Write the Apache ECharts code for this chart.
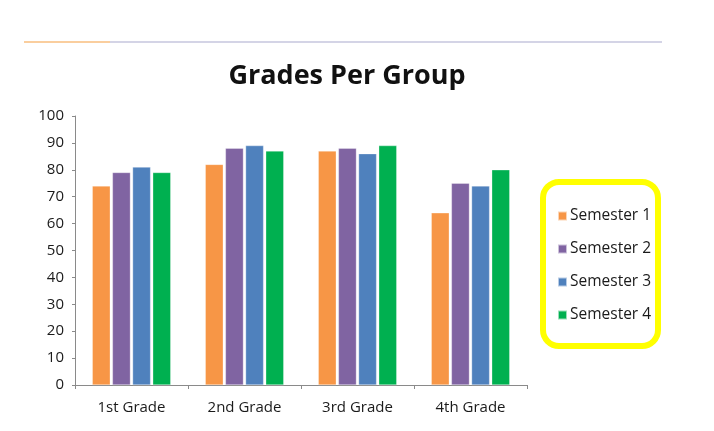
<!DOCTYPE html>
<html>
<head>
<meta charset="utf-8">
<script src="https://cdn.jsdelivr.net/npm/echarts@6/dist/echarts.min.js"></script>
<style>
html, body { margin: 0; padding: 0; background: #fff; }
#chart { width: 714px; height: 431px; }
</style>
</head>
<body>
<div id="chart"></div>
<script>
// 数据
const categories = ['1st Grade', '2nd Grade', '3rd Grade', '4th Grade'];
const seriesNames = ['Semester 1', 'Semester 2', 'Semester 3', 'Semester 4'];
const semester1 = [74, 82, 87, 64];
const semester2 = [79, 88, 88, 75];
const semester3 = [81, 89, 86, 74];
const semester4 = [79, 87, 89, 80];
const yTicks = [0, 10, 20, 30, 40, 50, 60, 70, 80, 90, 100];

const colors = ['#F79646', '#8064A2', '#4F81BD', '#00B050'];
const font = 'Open Sans';

const chart = echarts.init(document.getElementById('chart'));

const seriesData = [semester1, semester2, semester3, semester4];

const option = {
	animation: false,
	color: colors,
	title: {
		text: 'Grades Per Group',
		left: 342,
		top: 58,
		textAlign: 'center',
		textStyle: { fontFamily: font, fontSize: 27, fontWeight: 'bold', color: '#111' }
	},
	legend: {
		orient: 'vertical',
		left: 552,
		top: 203,
		itemWidth: 9,
		itemHeight: 9,
		itemGap: 17,
		icon: 'rect',
		data: seriesNames,
		textStyle: { fontFamily: font, fontSize: 15.5, color: '#1a1a1a', padding: [0, 0, 0, -2] }
	},
	grid: {
		left: 75,
		right: 187,
		top: 116,
		bottom: 46
	},
	xAxis: {
		type: 'category',
		data: categories,
		axisLine: { lineStyle: { color: '#8a8a8a', width: 1 } },
		axisTick: { show: true, length: 4, lineStyle: { color: '#8a8a8a' } },
		axisLabel: { fontFamily: font, fontSize: 15, color: '#1a1a1a', margin: 15 }
	},
	yAxis: {
		type: 'value',
		min: yTicks[0],
		max: yTicks[yTicks.length - 1],
		interval: 10,
		axisLine: { show: true, lineStyle: { color: '#8a8a8a', width: 1 } },
		axisTick: { show: true, length: 3, lineStyle: { color: '#8a8a8a' } },
		splitLine: { show: false },
		axisLabel: { fontFamily: font, fontSize: 15, color: '#1a1a1a', margin: 11 }
	},
	series: seriesNames.map(function (name, i) {
		return {
			name: name,
			type: 'bar',
			data: seriesData[i],
			barWidth: 18,
			barGap: '12%',
			itemStyle: { borderColor: 'rgba(255,255,255,0.6)', borderWidth: 0.5 }
		};
	}),
	graphic: [
		{
			type: 'line',
			shape: { x1: 24, y1: 42, x2: 110, y2: 42 },
			style: { stroke: '#F9BE7E', lineWidth: 1.5 }
		},
		{
			type: 'line',
			shape: { x1: 110, y1: 42, x2: 662, y2: 42 },
			style: { stroke: '#C6C6DE', lineWidth: 1.5 }
		},
		{
			type: 'rect',
			shape: { x: 543, y: 182, width: 115, height: 164, r: 16 },
			style: { fill: 'none', stroke: '#FFFF00', lineWidth: 6 }
		}
	]
};

chart.setOption(option);
window.onresize = chart.resize;
</script>
</body>
</html>
